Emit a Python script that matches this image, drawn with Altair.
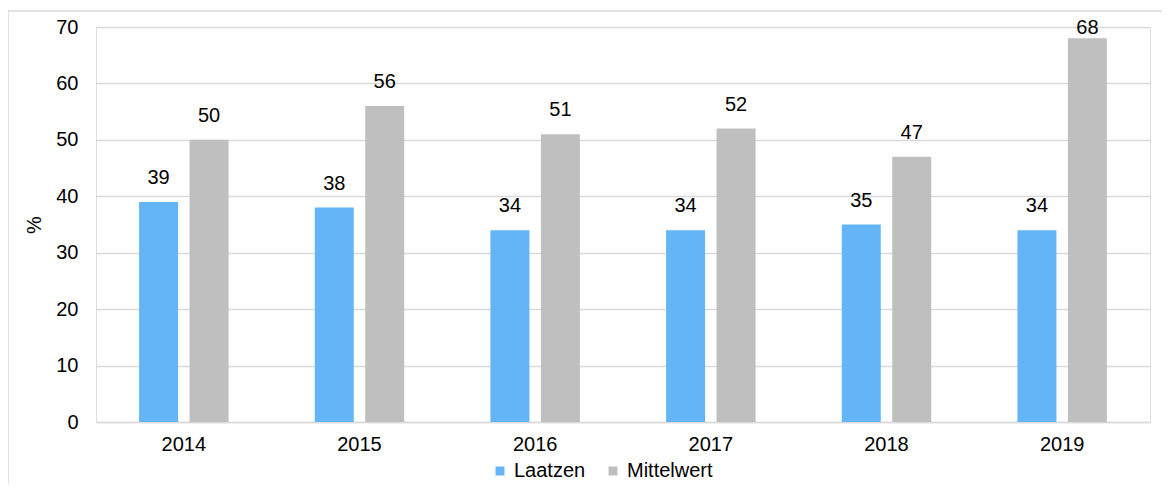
import altair as alt
import pandas as pd

years = ["2014", "2015", "2016", "2017", "2018", "2019"]
laatzen = [39, 38, 34, 34, 35, 34]
mittelwert = [50, 56, 51, 52, 47, 68]
series = ["Laatzen", "Mittelwert"]
colors = ["#63B5F6", "#BFBFBF"]

rows = []
for y, a, b in zip(years, laatzen, mittelwert):
    rows.append({"Jahr": y, "Reihe": series[0], "Wert": a})
    rows.append({"Jahr": y, "Reihe": series[1], "Wert": b})
df = pd.DataFrame(rows)

FONT = "Liberation Sans"
W, H = 1054, 395
FS = 20

x = alt.X("Jahr:N", sort=years, title=None,
          scale=alt.Scale(paddingInner=0, paddingOuter=0),
          axis=alt.Axis(labelAngle=0, labelFontSize=FS, labelColor="#000000",
                        labelPadding=12, ticks=False, domain=True,
                        domainColor="#D9D9D9", domainWidth=1.5, grid=False))
xo = alt.XOffset("Reihe:N", sort=series,
                 scale=alt.Scale(paddingInner=0.218, paddingOuter=0.85))
y = alt.Y("Wert:Q", title="%",
          scale=alt.Scale(domain=[0, 70], nice=False),
          axis=alt.Axis(values=list(range(0, 71, 10)), labelFontSize=FS,
                        labelColor="#000000", labelPadding=18, ticks=False,
                        domain=False, gridColor="#D9D9D9", gridWidth=1.5,
                        titleFontSize=FS, titleColor="#000000",
                        titleFontWeight="normal", titlePadding=11))
color = alt.Color("Reihe:N", sort=series,
                  scale=alt.Scale(domain=series, range=colors),
                  legend=alt.Legend(title=None, orient="none", direction="horizontal",
                                    legendX=394, legendY=434, symbolType="square",
                                    symbolSize=80, symbolStrokeWidth=0,
                                    labelFontSize=20, labelColor="#000000",
                                    columnPadding=17, labelOffset=4))

base = alt.Chart(df)

border = alt.Chart(pd.DataFrame({"a": [0]})).mark_rect(
    fill=None, stroke="#D9D9D9", strokeWidth=1.5
).encode(x=alt.value(-88), x2=alt.value(W + 60), y=alt.value(-16), y2=alt.value(H + 120))

bars = base.mark_bar(size=39).encode(x=x, xOffset=xo, y=y, color=color)

labels = base.transform_filter("datum.Wert < 65").mark_text(
    baseline="bottom", dy=-14, fontSize=FS, font=FONT, color="#000000"
).encode(x=x, xOffset=xo, y=y, text="Wert:Q")

labels_top = base.transform_filter("datum.Wert >= 65").mark_text(
    baseline="bottom", dy=0, fontSize=FS, font=FONT, color="#000000"
).encode(x=x, xOffset=xo, y=y, text="Wert:Q")

chart = alt.layer(border, bars, labels, labels_top).properties(
    width=W, height=H,
    autosize=alt.AutoSizeParams(type="none"),
    padding={"left": 88, "top": 19, "right": 12, "bottom": 62},
).configure_view(stroke=None).configure(font=FONT)

chart.save("out.html", embed_options={"renderer": "svg", "actions": False})
